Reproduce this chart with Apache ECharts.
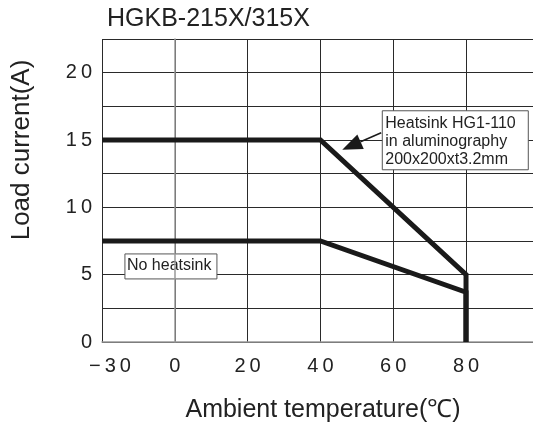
<!DOCTYPE html>
<html><head><meta charset="utf-8">
<script src="https://cdn.jsdelivr.net/npm/echarts@6/dist/echarts.min.js"></script>
<style>html,body{margin:0;padding:0;background:#fff}#c{width:533px;height:428px}</style>
</head><body><div id="c"></div>
<script>
// ---- data ----
const xTicks = [-30, 0, 20, 40, 60, 80];
const yTicks = [0, 5, 10, 15, 20];
const heatsinkX = [-30, 40, 80, 80];
const heatsinkY = [15, 15, 5, 0];
const noHeatsinkX = [-30, 40, 80, 80];
const noHeatsinkY = [7.5, 7.5, 3.7, 0];
const titleText = 'HGKB-215X/315X';
const xName = 'Ambient temperature(℃)';
const yName = 'Load current(A)';
const noteHeatsink = 'Heatsink HG1-110\nin aluminography\n200x200xt3.2mm';
const noteNone = 'No heatsink';

// The printed x scale compresses -30..0 into one 20-degree cell.
function toAxis(t){ return t < 0 ? t * 20 / 30 : t; }
function fromAxis(a){ return a < 0 ? a * 30 / 20 : a; }
function spaced(s){ return String(s).split('').join('\u2009'); }

const font = 'Liberation Sans, Arial, sans-serif';
const ink = '#1a1a1a';

const chart = echarts.init(document.getElementById('c'));
chart.setOption({
  animation: false,
  backgroundColor: '#fff',
  title: {
    text: titleText, left: 102, top: 2,
    textStyle: {fontFamily: font, fontSize: 25, fontWeight: 'normal', color: '#222'}
  },
  grid: {left: 102, top: 39, right: 0, bottom: 86},
  xAxis: {
    type: 'value', min: toAxis(xTicks[0]), max: 98.4, interval: 20,
    axisLine: {show: true, lineStyle: {color: '#999', width: 1.5}},
    axisTick: {show: false},
    splitLine: {show: true, lineStyle: {color: '#2a2a2a', width: 1}},
    axisLabel: {
      margin: 14, fontFamily: font, fontSize: 20, color: '#222', showMaxLabel: false,
      formatter: function(v){
        const t = Math.round(fromAxis(v) * 100) / 100;
        if (xTicks.indexOf(t) < 0) return '';
        const s = (t < 0 ? '\u2212' + Math.abs(t) : String(t));
        return t < 0 ? '{n|' + spaced(s) + '}' : spaced(s);
      },
      rich: {n: {fontFamily: font, fontSize: 20, color: '#222', padding: [0, 0, 0, 16]}}
    }
  },
  yAxis: {
    type: 'value', min: 0, max: 22.5, interval: 2.5,
    axisLine: {show: true, lineStyle: {color: '#999', width: 1.5}},
    axisTick: {show: false},
    splitLine: {show: true, lineStyle: {color: '#2a2a2a', width: 1}},
    axisLabel: {
      margin: 10, fontFamily: font, fontSize: 20, color: '#222',
      formatter: function(v){ return yTicks.indexOf(v) >= 0 ? spaced(v) : ''; }
    }
  },
  series: [
    {type: 'line', symbol: 'none', silent: true,
     data: heatsinkX.map((x, i) => [toAxis(x), heatsinkY[i]]),
     lineStyle: {color: ink, width: 5, join: 'miter'}},
    {type: 'line', symbol: 'none', silent: true,
     data: noHeatsinkX.map((x, i) => [toAxis(x), noHeatsinkY[i]]),
     lineStyle: {color: ink, width: 5, join: 'miter'}}
  ]
});

function px(p){ return chart.convertToPixel({xAxisIndex: 0, yAxisIndex: 0}, p); }

// annotation placement (axis-space positions)
const b1 = px([57, 17.17]);
const b2 = px([-13.7, 6.54]);
const tail = px([56.7, 15.54]);
const tip = px([46.0, 14.27]);
const dx = tip[0] - tail[0], dy = tip[1] - tail[1];
const len = Math.sqrt(dx * dx + dy * dy), ux = dx / len, uy = dy / len;
const hl = 20, hw = 8;
const base = [tip[0] - ux * hl, tip[1] - uy * hl];
const head = [tip, [base[0] - uy * hw, base[1] + ux * hw], [base[0] + uy * hw, base[1] - ux * hw]];

chart.setOption({
  graphic: [
    {type: 'rect', shape: {x: b1[0], y: b1[1], width: 146, height: 59},
     style: {fill: '#fff', stroke: '#555', lineWidth: 1}},
    {type: 'text', x: b1[0] + 3, y: b1[1] + 4,
     style: {text: noteHeatsink, font: '16px ' + font, fill: '#222', lineHeight: 18, textVerticalAlign: 'top'}},
    {type: 'rect', shape: {x: b2[0], y: b2[1], width: 92, height: 25},
     style: {fill: '#fff', stroke: '#555', lineWidth: 1}},
    {type: 'text', x: b2[0] + 2, y: b2[1] + 4,
     style: {text: noteNone, font: '16px ' + font, fill: '#222', textVerticalAlign: 'top'}},
    {type: 'line', shape: {x1: tail[0], y1: tail[1], x2: base[0], y2: base[1]},
     style: {stroke: ink, lineWidth: 1.5}},
    {type: 'polygon', shape: {points: head}, style: {fill: ink}},
    {type: 'text', x: 22, y: 150, rotation: Math.PI / 2,
     style: {text: yName, font: '26px ' + font, fill: '#222', textAlign: 'center', textVerticalAlign: 'middle'}},
    {type: 'text', x: 323, y: 410,
     style: {text: xName, font: '25px ' + font, fill: '#222', textAlign: 'center', textVerticalAlign: 'middle'}}
  ]
});
</script></body></html>
